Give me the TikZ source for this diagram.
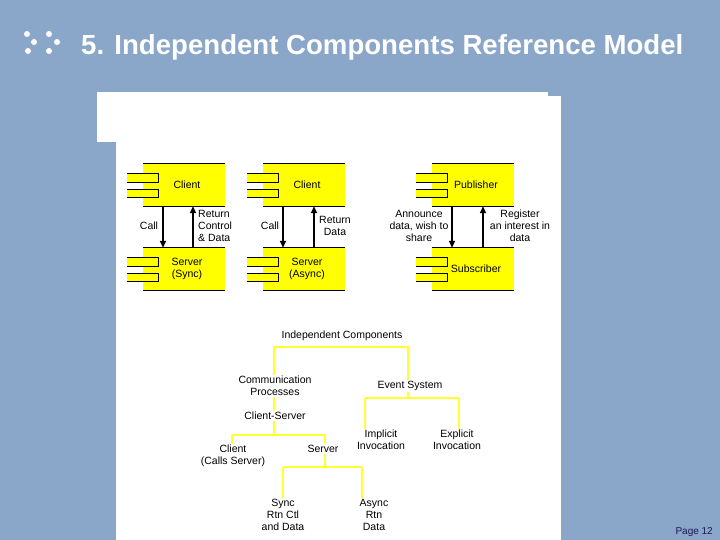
\documentclass[tikz,border=0pt]{standalone}
\usepackage{fontspec}
\setmainfont{Liberation Sans}
\usetikzlibrary{arrows.meta}
\definecolor{bgblue}{RGB}{138,166,201}
\definecolor{compyellow}{RGB}{255,255,0}
\definecolor{treeyellow}{RGB}{255,255,50}
\definecolor{pagenavy}{RGB}{25,25,85}
\newcommand\mycomp[4]{%
  \node[compbox, label={[lbl, xshift=3pt]center:#4}] (#1) at (#2+41,#3+21) {};
  \draw[compline] (#1.north west) -- (#1.north east) (#1.south west) -- (#1.south east);
  \fill[compyellow] (#2-16,#3+9) rectangle (#2+15,#3+18);
  \fill[compyellow] (#2-16,#3+25) rectangle (#2+15,#3+33);
  \draw[compline] (#2-16,#3+9) -- (#2+15,#3+9) -- (#2+15,#3+18) -- (#2-16,#3+18);
  \draw[compline] (#2-16,#3+25) -- (#2+15,#3+25) -- (#2+15,#3+33) -- (#2-16,#3+33);
}
\begin{document}
\begin{tikzpicture}[x=1pt,y=-1pt,
  compbox/.style={fill=compyellow, minimum width=82pt, minimum height=42pt, inner sep=0pt},
  compline/.style={draw=black, line width=0.9pt},
  arr/.style={draw=black, line width=1.6pt, -{Triangle[length=7pt,width=6pt]}},
  lbl/.style={font=\fontsize{10.5}{12}\selectfont, inner sep=0pt, align=center},
  tree/.style={draw=treeyellow, line width=2pt},
  tlbl/.style={font=\fontsize{10.5}{12}\selectfont, inner sep=1pt, align=center, fill=white}]
\useasboundingbox (0,0) rectangle (720,540);
\fill[bgblue] (0,0) rectangle (720,540);
% title
\foreach \p in {(27,34),(49,34),(34,42),(57,42),(28,51),(49,51)}
  \fill[white] \p circle (3);
\node[anchor=base west, inner sep=0pt, text=white, font=\fontsize{27.6}{30}\selectfont\bfseries]
  (title) at (81,55) {5. Independent Components Reference Model};
\node[anchor=base east, inner sep=0pt, text=pagenavy, font=\fontsize{10}{12}\selectfont]
  (page) at (713,534) {Page 12};
% white panel
\fill[white] (97,92) rectangle (548,142);
\fill[white] (116,96) rectangle (561,540);
% components
\mycomp{c1}{143}{164}{Client}
\mycomp{s1}{143}{248}{Server\\(Sync)}
\mycomp{c2}{263}{164}{Client}
\mycomp{s2}{263}{248}{Server\\(Async)}
\mycomp{pub}{432}{164}{Publisher}
\mycomp{sub}{432}{248}{Subscriber}
% arrows
\draw[arr] ([xshift=-21pt]c1.south) -- ([xshift=-21pt]s1.north);
\draw[arr] ([xshift=9pt]s1.north) -- ([xshift=9pt]c1.south);
\draw[arr] ([xshift=-21pt]c2.south) -- ([xshift=-21pt]s2.north);
\draw[arr] ([xshift=10pt]s2.north) -- ([xshift=10pt]c2.south);
\draw[arr, line width=2pt] ([xshift=-21pt]pub.south) -- ([xshift=-21pt]sub.north);
\draw[arr] ([xshift=10pt]sub.north) -- ([xshift=10pt]pub.south);
% arrow labels
\node[lbl] (call1) at (149,226) {Call};
\node[lbl, anchor=west, align=left] (ret1) at (198,226) {Return\\Control\\\& Data};
\node[lbl] (call2) at (270,226) {Call};
\node[lbl] (ret2) at (335,226) {Return\\Data};
\node[lbl] (ann) at (419,226) {Announce\\data, wish to\\share};
\node[lbl] (reg) at (520,226) {Register\\an interest in\\data};
% tree lines
\coordinate (jl) at (274,347);
\coordinate (jr) at (408,347);
\coordinate (ev) at (408,398);
\coordinate (cs) at (274,435);
\coordinate (csl) at (232,435);
\coordinate (csr) at (325,435);
\coordinate (sv) at (325,467);
\coordinate (svl) at (283,467);
\coordinate (svr) at (362,467);
\coordinate (evl) at (365,398);
\coordinate (evr) at (459,398);
\draw[tree] (cs) -- (jl) -- (jr) -- (ev);
\draw[tree] (csl) -- (csr) -- (sv);
\draw[tree] (svl) -- (svr);
\draw[tree] (evl) -- (evr);
\draw[tree] (csl) -- ++(0,10);
\draw[tree] (svl) -- ++(0,31);
\draw[tree] (svr) -- ++(0,31);
\draw[tree] (evl) -- ++(0,34);
\draw[tree] (evr) -- ++(0,34);
% tree labels
\node[tlbl] (root) at (342,336) {Independent Components};
\node[tlbl] (comm) at (275,386) {Communication\\Processes};
\node[tlbl] (event) at (410,386) {Event System};
\node[tlbl] (clsv) at (275,416) {Client-Server};
\node[tlbl] (client) at (233,456) {Client\\(Calls Server)};
\node[tlbl] (server) at (323,449) {Server};
\node[tlbl] (impl) at (381,440) {Implicit\\Invocation};
\node[tlbl] (expl) at (457,440) {Explicit\\Invocation};
\node[tlbl] (sync) at (283,515) {Sync\\Rtn Ctl\\and Data};
\node[tlbl] (async) at (374,515) {Async\\Rtn\\Data};
\end{tikzpicture}
\end{document}
